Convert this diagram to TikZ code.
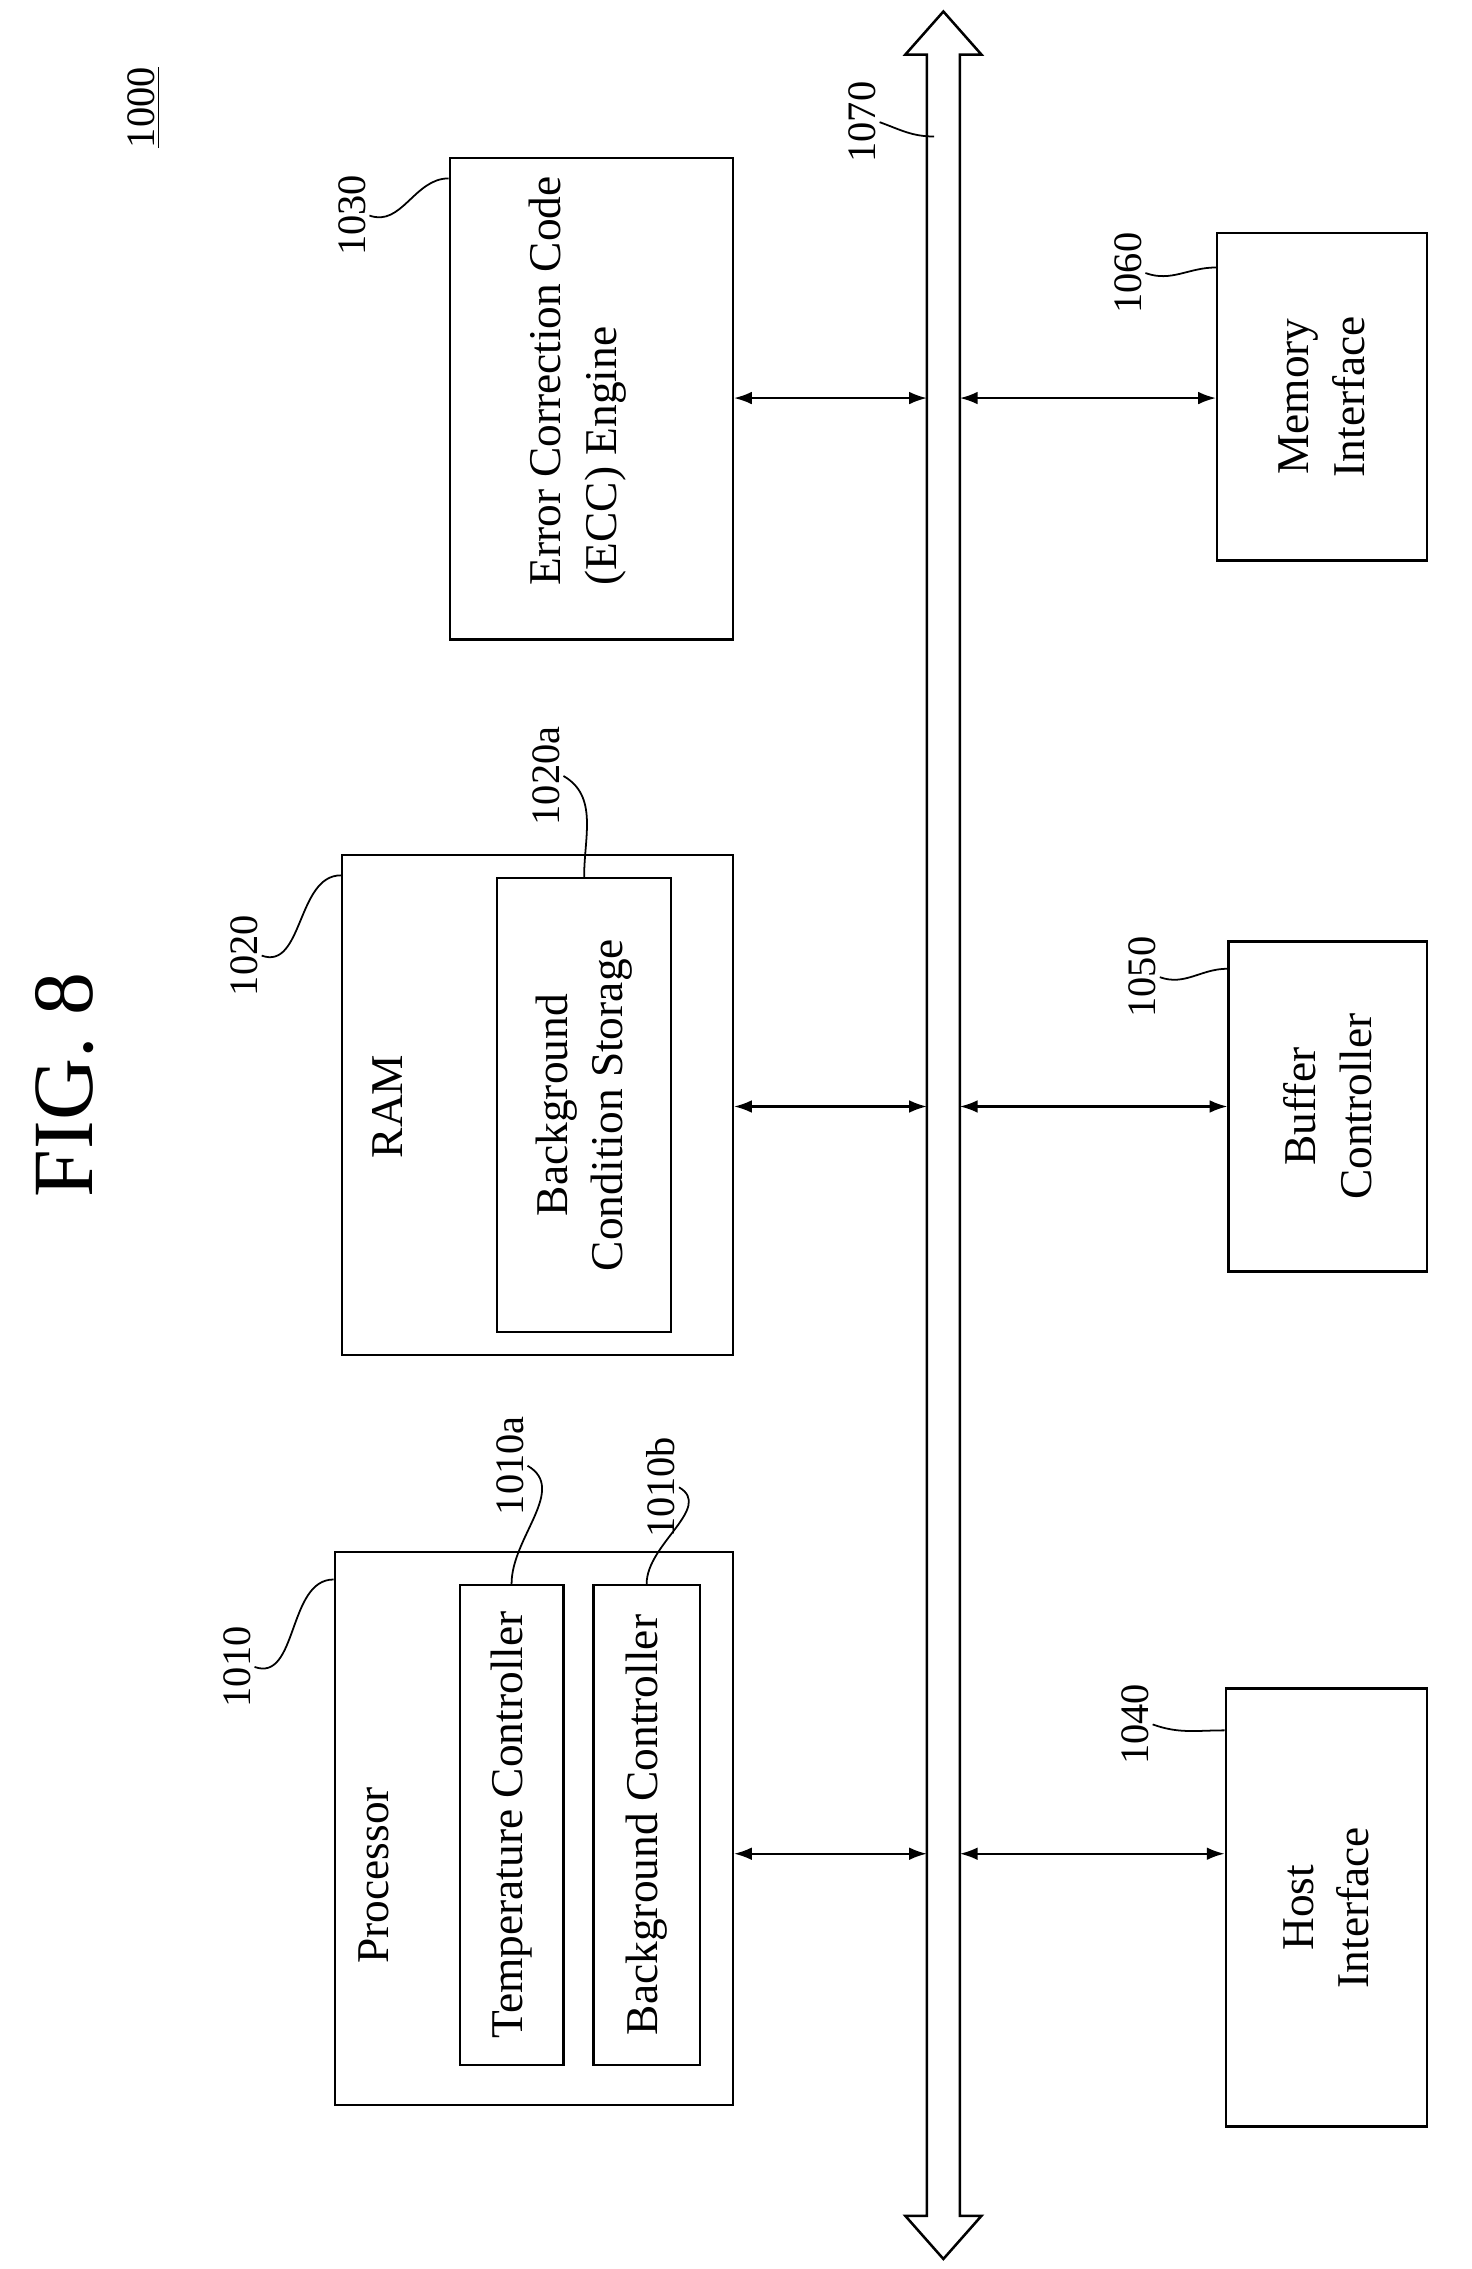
\documentclass[tikz,border=0pt]{standalone}
\usepackage{fontspec}
\setmainfont{Liberation Serif}
\usetikzlibrary{arrows.meta}
\begin{document}
\begin{tikzpicture}[x=0.02cm,y=-0.02cm,line width=1pt,
  box/.style={draw,rectangle,inner sep=0pt},
  txt/.style={rotate=90,font=\fontsize{18}{22}\selectfont,align=center},
  lbl/.style={rotate=90,font=\fontsize{16}{18}\selectfont,inner sep=1pt},
  bi/.style={{Latex[length=7pt,width=5pt]}-{Latex[length=7pt,width=5pt]},line width=0.8pt},
  lead/.style={line width=0.7pt}]
\useasboundingbox (0,0) rectangle (1024,1579);
% title
\node[rotate=90,font=\fontsize{34}{40}\selectfont] (fig) at (45,755) {FIG. 8};
\node[lbl] (l1000) at (100,75) {\underline{1000}};
% bus 1070
\draw[line width=1pt] (645,38) -- (630,38) -- (656.5,8) -- (683,38) -- (668,38)
  -- (668,1542) -- (683,1542) -- (656.5,1572) -- (630,1542) -- (645,1542) -- cycle;
\coordinate (busL) at (645,0);
\coordinate (busR) at (668,0);
\coordinate (bus) at (650,95);
\node[lbl] (l1070) at (600,85) {1070};
% left column
\node[box,minimum width=5.54cm,minimum height=7.7cm] (proc) at (371.5,1272.5) {};
\node[txt] (proct) at (260,1305) {Processor};
\node[box,minimum width=1.44cm,minimum height=6.68cm] (temp) at (356,1270) {};
\node[txt] at (temp) {Temperature Controller};
\node[box,minimum width=1.48cm,minimum height=6.68cm] (bgc) at (450,1270) {};
\node[txt] at (bgc) {Background Controller};
\node[box,minimum width=5.44cm,minimum height=6.96cm] (ram) at (374,769) {};
\node[txt] (ramt) at (270,770) {RAM};
\node[box,minimum width=2.42cm,minimum height=6.32cm] (bcs) at (406.5,769) {};
\node[txt] at (bcs) {Background\\Condition Storage};
\node[box,minimum width=3.94cm,minimum height=6.7cm] (ecc) at (411.5,277.5) {};
\node[txt,align=left] at (402,265) {Error Correction Code\\(ECC) Engine};
% right column
\node[box,minimum width=2.8cm,minimum height=6.1cm] (host) at (923,1327.5) {};
\node[txt] at (host) {Host\\Interface};
\node[box,minimum width=2.76cm,minimum height=4.6cm] (buf) at (924,770) {};
\node[txt] at (buf) {Buffer\\Controller};
\node[box,minimum width=2.92cm,minimum height=4.56cm] (mem) at (920,276) {};
\node[txt] at (mem) {Memory\\Interface};
% connections to the bus
\coordinate (r1) at (0,1290);
\coordinate (r2) at (0,770);
\coordinate (r3) at (0,277);
\draw[bi] (proc.east |- r1) -- (busL |- r1);
\draw[bi] (busR |- r1) -- (host.west |- r1);
\draw[bi] (ram.east |- r2) -- (busL |- r2);
\draw[bi] (busR |- r2) -- (buf.west |- r2);
\draw[bi] (ecc.east |- r3) -- (busL |- r3);
\draw[bi] (busR |- r3) -- (mem.west |- r3);
% reference labels
\node[lbl] (l1010) at (165,1160) {1010};
\node[lbl] (l1010a) at (355,1020) {1010a};
\node[lbl] (l1010b) at (460,1035) {1010b};
\node[lbl] (l1020) at (170,665) {1020};
\node[lbl] (l1020a) at (380,540) {1020a};
\node[lbl] (l1030) at (245,150) {1030};
\node[lbl] (l1060) at (785,190) {1060};
\node[lbl] (l1050) at (795,680) {1050};
\node[lbl] (l1040) at (790,1200) {1040};
\draw[lead] (l1010.south) to[out=-20,in=180] ([yshift=-0.4cm]proc.north west);
\draw[lead] (l1010a.south) to[out=-30,in=90] (temp.north);
\draw[lead] (l1010b.south) to[out=-30,in=90] (bgc.north);
\draw[lead] (l1020.south) to[out=-20,in=180] ([yshift=-0.3cm]ram.north west);
\draw[lead] (l1020a.south) to[out=-30,in=90] (bcs.north);
\draw[lead] (l1030.south) to[out=-20,in=180] ([yshift=-0.3cm]ecc.north west);
\draw[lead] (l1070.south) to[out=-20,in=180] (bus);
\draw[lead] (l1060.south) to[out=-20,in=180] ([yshift=-0.5cm]mem.north west);
\draw[lead] (l1050.south) to[out=-20,in=180] ([yshift=-0.4cm]buf.north west);
\draw[lead] (l1040.south) to[out=-20,in=180] ([yshift=-0.6cm]host.north west);
\end{tikzpicture}
\end{document}
